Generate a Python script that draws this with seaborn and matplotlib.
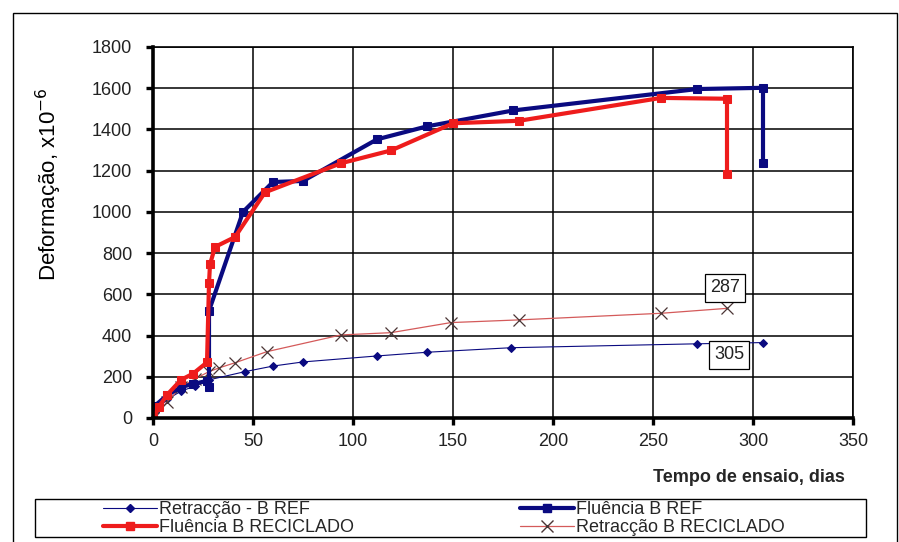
import numpy as np
import matplotlib
matplotlib.use("Agg")
import matplotlib.pyplot as plt
from matplotlib.lines import Line2D
from matplotlib.patches import Rectangle
import seaborn as sns

# dados
dias_ret_ref = [0, 1, 7, 14, 21, 28, 46, 60, 75, 112, 137, 179, 272, 305]
ret_ref = [0, 30, 90, 130, 155, 185, 225, 252, 272, 301, 319, 341, 360, 366]

dias_flu_ref = [0, 1, 7, 14, 20, 27, 28, 28, 45, 60, 75, 112, 137, 180, 272, 305, 305]
flu_ref = [0, 60, 110, 150, 165, 180, 150, 520, 1000, 1145, 1150, 1352, 1415, 1492, 1596, 1602, 1235]

dias_flu_rec = [0, 3, 7, 14, 20, 27, 28, 28.5, 31, 41, 56, 94, 119, 150, 183, 254, 287, 287]
flu_rec = [0, 55, 112, 185, 215, 270, 655, 745, 830, 878, 1095, 1236, 1298, 1430, 1442, 1553, 1549, 1184]

dias_ret_rec = [0, 7, 14, 21, 28, 33, 41, 57, 94, 119, 149, 183, 254, 287]
ret_rec = [0, 78, 150, 190, 225, 243, 268, 322, 403, 414, 463, 476, 508, 532]

nomes = ["Retracção - B REF", "Fluência B REF", "Fluência B RECICLADO", "Retracção B RECICLADO"]
rotulos = ["287", "305"]

sns.set_style("white")
plt.rcParams['font.family'] = ['Liberation Sans', 'DejaVu Sans']

fig = plt.figure(figsize=(8.99, 5.42), dpi=100)
ax = fig.add_axes([153/899, 1-418/542, 700/899, 371/542])

azul = "#0a0a80"
verm = "#ee1c1c"
rosa = "#d45a5a"

sns.lineplot(x=dias_ret_ref, y=ret_ref, ax=ax, sort=False, estimator=None, color=azul,
             linewidth=0.8, marker="D", markersize=4.5, markeredgecolor=azul)
sns.lineplot(x=dias_ret_rec, y=ret_rec, ax=ax, sort=False, estimator=None, color=rosa,
             linewidth=0.9, marker="x", markersize=9, markeredgecolor="#4a3535", markeredgewidth=0.9)
sns.lineplot(x=dias_flu_ref, y=flu_ref, ax=ax, sort=False, estimator=None, color=azul,
             linewidth=3, marker="s", markersize=6, markeredgecolor=azul)
sns.lineplot(x=dias_flu_rec, y=flu_rec, ax=ax, sort=False, estimator=None, color=verm,
             linewidth=3, marker="s", markersize=6, markeredgecolor=verm)

ax.set_xlim(0, 350)
ax.set_ylim(0, 1800)
ax.set_xticks(np.arange(0, 351, 50))
ax.set_yticks(np.arange(0, 1801, 200))
ax.grid(True, color="black", linewidth=1.1)
ax.set_axisbelow(True)
for s in ["top", "right"]:
    ax.spines[s].set_linewidth(1.2)
    ax.spines[s].set_color("black")
for s in ["left", "bottom"]:
    ax.spines[s].set_linewidth(2.6)
    ax.spines[s].set_color("black")
ax.tick_params(axis="both", direction="out", length=5, width=2.4, color="black",
               labelsize=13, labelcolor="#222222", bottom=True, left=True)
ax.tick_params(axis="y", pad=10)
ax.tick_params(axis="x", pad=6)
ax.set_xlabel("")
ax.set_ylabel("Deformação, x10$^{-6}$", fontsize=16, color="black")
ax.yaxis.set_label_coords(-0.127, 0.63)

for txt, xx, yy in [(rotulos[0], 286, 631), (rotulos[1], 288, 306)]:
    ax.text(xx, yy, txt, fontsize=13, ha="center", va="center", color="#222222",
            bbox=dict(boxstyle="square,pad=0.3", fc="white", ec="black", lw=0.9))

fig.text(845/899, 1-478/542, "Tempo de ensaio, dias", ha="right", va="center",
         fontsize=13, fontweight="bold")

# caixa exterior e caixa da legenda
fig.patches.append(Rectangle((13/899, -0.01), 884/899, 0.986, transform=fig.transFigure,
                             fill=False, ec="black", lw=1.0))
fig.patches.append(Rectangle((35/899, 1-537/542), 831/899, 38/542, transform=fig.transFigure,
                             fill=False, ec="black", lw=1.0))

h = [Line2D([], [], color=azul, lw=0.8, marker="D", ms=4.5),
     Line2D([], [], color=azul, lw=3, marker="s", ms=6),
     Line2D([], [], color=verm, lw=3, marker="s", ms=6),
     Line2D([], [], color=rosa, lw=0.9, marker="x", ms=9, mec="#4a3535")]

kw = dict(loc="lower left", frameon=False, fontsize=13, handlelength=3.0, handletextpad=0.1,
          borderpad=0, borderaxespad=0, labelspacing=0.05)
fig.legend([h[0], h[2]], [nomes[0], nomes[2]], bbox_to_anchor=(103/899, 1-536/542), **kw)
fig.legend([h[1], h[3]], [nomes[1], nomes[3]], bbox_to_anchor=(520/899, 1-536/542), **kw)

fig.savefig("out.png", dpi=100)
